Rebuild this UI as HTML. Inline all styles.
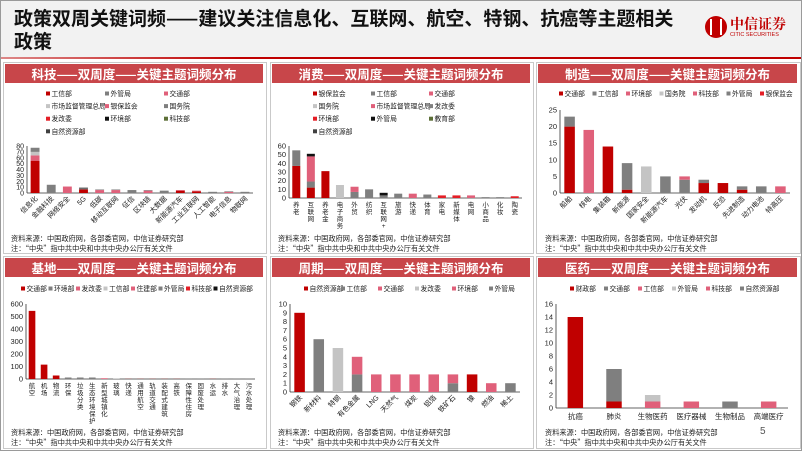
<!DOCTYPE html>
<html><head><meta charset="utf-8">
<style>
html,body{margin:0;padding:0;}
body{width:802px;height:451px;overflow:hidden;background:#fff;font-family:"Liberation Sans","Noto Sans CJK SC",sans-serif;position:relative;}
#frame{position:absolute;left:0;top:0;width:800px;height:449px;border:1px solid #9a9a9a;}
#header{position:absolute;left:1px;top:1px;width:800px;height:56px;background:#f2f2f2;}
#title{position:absolute;left:14px;top:6px;width:665px;font-size:19px;font-weight:bold;line-height:23px;color:#111;font-family:"Noto Sans CJK SC",sans-serif;}
#redline{position:absolute;left:1px;top:57px;width:800px;height:2px;background:linear-gradient(90deg,#d88 0%,#c00000 30%,#c00000 100%);}
.ptitle{position:absolute;height:19px;background:#c8464a;color:#fff;font-size:12.5px;font-weight:bold;text-align:center;line-height:19px;font-family:"Noto Sans CJK SC",sans-serif;}
.pbox{position:absolute;border:1px solid #c9c9c9;}
.src{position:absolute;font-size:7.2px;line-height:9.5px;color:#222;font-family:"Noto Sans CJK SC",sans-serif;white-space:nowrap;}
svg{position:absolute;left:0;top:0;}
</style></head><body>
<div id="frame"></div>
<div id="header"></div>
<div id="title">政策双周关键词频——建议关注信息化、互联网、航空、特钢、抗癌等主题相关政策</div>
<div id="redline"></div>
<div style="position:absolute;left:705px;top:14px;width:90px;height:30px;">
 <div style="position:absolute;left:0;top:2px;width:22px;height:22px;border-radius:50%;background:#c00000;"></div>
 <div style="position:absolute;left:5px;top:5px;width:12px;height:16px;border-left:2px solid #fff;border-right:2px solid #fff;box-sizing:border-box;"></div>
 <div style="position:absolute;left:25px;top:0;font-size:14px;font-weight:bold;color:#c00000;font-family:'Noto Serif CJK SC',serif;">中信证券</div>
 <div style="position:absolute;left:25px;top:18px;font-size:5.5px;color:#c00000;">CITIC SECURITIES</div>
</div>

<div class="pbox" style="left:3px;top:62px;width:262px;height:190px;"></div>
<div class="pbox" style="left:270px;top:62px;width:262px;height:190px;"></div>
<div class="pbox" style="left:536px;top:62px;width:263px;height:190px;"></div>
<div class="pbox" style="left:3px;top:256px;width:262px;height:191px;"></div>
<div class="pbox" style="left:270px;top:256px;width:262px;height:191px;"></div>
<div class="pbox" style="left:536px;top:256px;width:263px;height:191px;"></div>

<div class="ptitle" style="left:5px;top:64px;width:258px;">科技——双周度——关键主题词频分布</div>
<div class="ptitle" style="left:272px;top:64px;width:258px;">消费——双周度——关键主题词频分布</div>
<div class="ptitle" style="left:538px;top:64px;width:259px;">制造——双周度——关键主题词频分布</div>
<div class="ptitle" style="left:5px;top:258px;width:258px;">基地——双周度——关键主题词频分布</div>
<div class="ptitle" style="left:272px;top:258px;width:258px;">周期——双周度——关键主题词频分布</div>
<div class="ptitle" style="left:538px;top:258px;width:259px;">医药——双周度——关键主题词频分布</div>

<div class="src" style="left:11px;top:235px;">资料来源：中国政府网，各部委官网，中信证券研究部<br>注：“中央”指中共中央和中共中央办公厅有关文件</div>
<div class="src" style="left:278px;top:235px;">资料来源：中国政府网，各部委官网，中信证券研究部<br>注：“中央”指中共中央和中共中央办公厅有关文件</div>
<div class="src" style="left:545px;top:235px;">资料来源：中国政府网，各部委官网，中信证券研究部<br>注：“中央”指中共中央和中共中央办公厅有关文件</div>
<div class="src" style="left:11px;top:429px;">资料来源：中国政府网，各部委官网，中信证券研究部<br>注：“中央”指中共中央和中共中央办公厅有关文件</div>
<div class="src" style="left:278px;top:429px;">资料来源：中国政府网，各部委官网，中信证券研究部<br>注：“中央”指中共中央和中共中央办公厅有关文件</div>
<div class="src" style="left:545px;top:429px;">资料来源：中国政府网，各部委官网，中信证券研究部<br>注：“中央”指中共中央和中共中央办公厅有关文件</div>
<div style="position:absolute;left:760px;top:426px;font-size:10px;color:#555;">5</div>

<svg id="charts" width="802" height="451"></svg>

<script>
// ---- 科技 ----
const techCats = ["信息化","金融科技","网络安全","5G","低碳","移动互联网","征信","区块链","大数据","新能源汽车","工业互联网","人工智能","电子信息","物联网"];
const techSeriesNames = ["工信部","外管局","交通部","市场监督管理总局","银保监会","国务院","发改委","环境部","科技部","自然资源部"];
const techS0 = [55,0,0,6,0,0,0,0,0,4,3,0,0,0];
const techS1 = [0,0,0,0,0,0,0,0,0,0,0,0,0,0];
const techS2 = [9,0,11,0,5,5,0,4,0,0,0,0,2,0];
const techS3 = [6,0,0,0,0,0,0,0,0,0,0,0,0,0];
const techS4 = [0,0,0,0,0,0,0,0,0,1,1,0,0,0];
const techS5 = [7,14,0,2,1,1,5,1,4,0,0,2,1,2];
const techS6 = [0,0,0,0,0,0,0,0,0,0,0,0,0,0];
const techS7 = [0,0,0,1,0,0,0,0,0,0,0,0,0,0];
const techS8 = [0,0,0,0,0,0,0,0,0,0,0,0,0,0];
const techS9 = [0,0,0,0,0,0,0,0,0,0,0,0,0,0];
const techTicks = [0,10,20,30,40,50,60,70,80];

// ---- 消费 ----
const consCats = ["养老","互联网","养老金","电子商务","外贸","纺织","互联网+","旅游","快递","体育","家电","新媒体","电网","小商品","化妆","陶瓷"];
const consSeriesNames = ["银保监会","工信部","交通部","国务院","市场监督管理总局","发改委","环境部","外管局","教育部","自然资源部"];
const consS0 = [37,12,31,0,0,0,0,0,0,0,0,0,0,0,0,0];
const consS1 = [18,7,0,0,7,10,3,5,0,4,0,0,0,1,1,0];
const consS2 = [0,29,0,0,6,0,0,0,5,0,0,0,3,0,0,0];
const consS3 = [0,0,0,15,0,0,0,0,0,0,0,0,0,0,0,0];
const consS4 = [0,0,0,0,0,0,0,0,0,0,0,0,0,0,0,0];
const consS5 = [0,0,0,0,0,0,0,0,0,0,0,0,0,0,0,0];
const consS6 = [0,0,0,0,0,0,0,0,0,0,3,3,0,0,0,2];
const consS7 = [0,3,0,0,0,0,3,0,0,0,0,0,0,0,0,0];
const consS8 = [0,0,0,0,0,0,0,0,0,0,0,0,0,0,0,0];
const consS9 = [0,0,0,0,0,0,0,0,0,0,0,0,0,0,0,0];
const consTicks = [0,10,20,30,40,50,60];

// ---- 制造 ----
const mfgCats = ["船舶","核电","集装箱","新能源","国家安全","新能源汽车","光伏","发动机","反恐","先进制造","动力电池","特高压"];
const mfgSeriesNames = ["交通部","工信部","环境部","国务院","科技部","外管局","银保监会"];
const mfgS0 = [20,0,14,1,0,0,0,3,3,1,0,0];
const mfgS1 = [3,0,0,8,0,5,4,1,0,1,2,0];
const mfgS2 = [0,19,0,0,0,0,1,0,0,0,0,2];
const mfgS3 = [0,0,0,0,8,0,0,0,0,0,0,0];
const mfgS4 = [0,0,0,0,0,0,0,0,0,0,0,0];
const mfgS5 = [0,0,0,0,0,0,0,0,0,0,0,0];
const mfgS6 = [0,0,0,0,0,0,0,0,0,0,0,0];
const mfgTicks = [0,5,10,15,20,25];

// ---- 基地 ----
const baseCats = ["航空","机场","物流","环保","垃圾分类","生态环境保护","新型城镇化","玻璃","快递","通用航空","轨道交通","装配式建筑","高铁","保障性住房","固废处理","水运","排水","大气治理","污水处理"];
const baseSeriesNames = ["交通部","环境部","发改委","工信部","住建部","外管局","科技部","自然资源部"];
const baseS0 = [545,115,28,0,0,0,0,0,1,1,1,1,1,0,0,1,0,0,0];
const baseS1 = [0,0,0,12,12,12,0,0,0,0,0,0,0,1,1,0,1,1,1];
const baseS2 = [0,0,0,0,0,0,6,0,0,0,0,0,0,0,0,0,0,0,0];
const baseS3 = [0,0,0,0,0,0,0,3,0,0,0,0,0,0,0,0,0,0,0];
const baseS4 = [0,0,0,0,0,0,0,0,0,0,0,0,0,0,0,0,0,0,0];
const baseS5 = [0,0,0,0,0,0,0,0,0,0,0,0,0,0,0,0,0,0,0];
const baseS6 = [0,0,0,0,0,0,0,0,0,0,0,0,0,0,0,0,0,0,0];
const baseS7 = [0,0,0,0,0,0,0,0,0,0,0,0,0,0,0,0,0,0,0];
const baseTicks = [0,100,200,300,400,500,600];

// ---- 周期 ----
const cycCats = ["钢铁","新材料","特钢","有色金属","LNG","天然气","煤炭","铝箔","铁矿石","镍","燃油","稀土"];
const cycSeriesNames = ["自然资源部","工信部","交通部","发改委","环境部","外管局"];
const cycS0 = [9,0,0,0,0,0,0,0,0,2,0,0];
const cycS1 = [0,6,0,2,0,0,0,0,1,0,0,0];
const cycS2 = [0,0,0,2,2,2,2,2,1,0,1,0];
const cycS3 = [0,0,5,0,0,0,0,0,0,0,0,0];
const cycS4 = [0,0,0,0,0,0,0,0,0,0,0,0];
const cycS5 = [0,0,0,0,0,0,0,0,0,0,0,1];
const cycTicks = [0,1,2,3,4,5,6,7,8,9,10];

// ---- 医药 ----
const medCats = ["抗癌","肺炎","生物医药","医疗器械","生物制品","高端医疗"];
const medSeriesNames = ["财政部","交通部","工信部","外管局","科技部","自然资源部"];
const medS0 = [14,1,0,0,0,0];
const medS1 = [0,5,0,0,1,0];
const medS2 = [0,0,1,1,0,1];
const medS3 = [0,0,1,0,0,0];
const medS4 = [0,0,0,0,0,0];
const medS5 = [0,0,0,0,0,0];
const medTicks = [0,2,4,6,8,10,12,14,16];

const RED="#c00000", GRAY="#7f7f7f", PINK="#e0607a", LIGHT="#c4c4c4", BLACK="#111", OLIVE="#5d7038", DARK="#404040", RED2="#e41e26";
const NS="http://www.w3.org/2000/svg";
const svg=document.getElementById('charts');
function mk(tag,attrs,parent){const e=document.createElementNS(NS,tag);for(const k in attrs)e.setAttribute(k,attrs[k]);(parent||svg).appendChild(e);return e;}

function drawChart(key,cats,series,names,colors,ticks,L){
  const g=mk('g',{});
  
  
  const max=ticks[ticks.length-1];
  const y=v=>L.yb-(v/max)*(L.yb-L.yt);
  const band=(L.x1-L.x0)/cats.length;
  const x=i=>L.x0+band*i+band/2;
  const ax=mk('line',{x1:L.x0,y1:L.yt,x2:L.x0,y2:L.yb,stroke:'#333','stroke-width':0.8},g);
  
  
  const bx=mk('line',{x1:L.x0,y1:L.yb,x2:L.x1,y2:L.yb,stroke:'#333','stroke-width':0.8},g);
  
  
  ticks.forEach(t=>{
    const tl=mk('text',{x:L.x0-3,y:y(t)+2.5,'font-size':L.tf||7.5,'text-anchor':'end',fill:'#222'},g);
    tl.textContent=t;
    
    
  });
  const bw=band*(L.bw||0.55);
  cats.forEach((c,i)=>{
    let acc=0;
    series.forEach((s,k)=>{
      const v=s[i]; if(!v) return;
      const r=mk('rect',{x:x(i)-bw/2,y:y(acc+v),width:bw,height:y(acc)-y(acc+v),fill:colors[k]},g);
      
      
      acc+=v;
    });
    let t;
    if(L.lab==='rot'){
      t=mk('text',{x:x(i)+3,y:L.yb+6,'font-size':7,'text-anchor':'end',fill:'#222',transform:`rotate(-45 ${x(i)+3} ${L.yb+6})`},g);
      t.textContent=c;
    }else if(L.lab==='vert'){
      t=mk('text',{'font-size':6.5,'text-anchor':'middle',fill:'#222'},g);
      Array.from(c).forEach((ch,j)=>{
        const sp=mk('tspan',{x:x(i),y:L.yb+9+j*7},t);
        sp.textContent=ch;
      });
    }else{
      t=mk('text',{x:x(i),y:L.yb+11,'font-size':7.5,'text-anchor':'middle',fill:'#222'},g);
      t.textContent=c;
    }
    
    
  });
  names.forEach((n,k)=>{
    const col=k%L.cols,row=Math.floor(k/L.cols);
    const lx=L.lx+col*L.lcw, ly=L.ly+row*L.lrh;
    const sq=mk('rect',{x:lx,y:ly-4.5,width:4,height:4,fill:colors[k]},g);
    
    
    const lt=mk('text',{x:lx+5.5,y:ly,'font-size':6.8,fill:'#222'},g);
    lt.textContent=n;
    
    
  });
}

drawChart('tech',techCats,[techS0,techS1,techS2,techS3,techS4,techS5,techS6,techS7,techS8,techS9],techSeriesNames,
 [RED,GRAY,PINK,LIGHT,PINK,GRAY,RED2,BLACK,OLIVE,DARK],techTicks,
 {x0:27,x1:253,yb:193,yt:146,lab:'rot',tf:7,cols:3,lx:46,ly:96,lcw:59,lrh:12.6});
drawChart('consumer',consCats,[consS0,consS1,consS2,consS3,consS4,consS5,consS6,consS7,consS8,consS9],consSeriesNames,
 [RED,GRAY,PINK,LIGHT,PINK,GRAY,RED2,BLACK,OLIVE,DARK],consTicks,
 {x0:289,x1:522,yb:198,yt:146,lab:'vert',cols:3,lx:313,ly:96,lcw:58,lrh:12.6});
drawChart('manufacturing',mfgCats,[mfgS0,mfgS1,mfgS2,mfgS3,mfgS4,mfgS5,mfgS6],mfgSeriesNames,
 [RED,GRAY,PINK,LIGHT,PINK,GRAY,RED2],mfgTicks,
 {x0:560,x1:790,yb:193,yt:110,lab:'rot',cols:7,lx:559,ly:96,lcw:33.5,lrh:12});
drawChart('infrastructure',baseCats,[baseS0,baseS1,baseS2,baseS3,baseS4,baseS5,baseS6,baseS7],baseSeriesNames,
 [RED,GRAY,PINK,LIGHT,PINK,GRAY,RED2,BLACK],baseTicks,
 {x0:26,x1:255,yb:379,yt:304,lab:'vert',cols:8,lx:21,ly:291,lcw:27.5,lrh:12});
drawChart('cyclical',cycCats,[cycS0,cycS1,cycS2,cycS3,cycS4,cycS5],cycSeriesNames,
 [RED,GRAY,PINK,LIGHT,PINK,GRAY],cycTicks,
 {x0:290,x1:520,yb:392,yt:304,lab:'rot',cols:6,lx:304,ly:291,lcw:37,lrh:12});
drawChart('pharma',medCats,[medS0,medS1,medS2,medS3,medS4,medS5],medSeriesNames,
 [RED,GRAY,PINK,LIGHT,PINK,GRAY],medTicks,
 {x0:556,x1:788,yb:408,yt:304,lab:'h',bw:0.4,cols:6,lx:570,ly:291,lcw:34,lrh:12});
</script>
</body></html>
